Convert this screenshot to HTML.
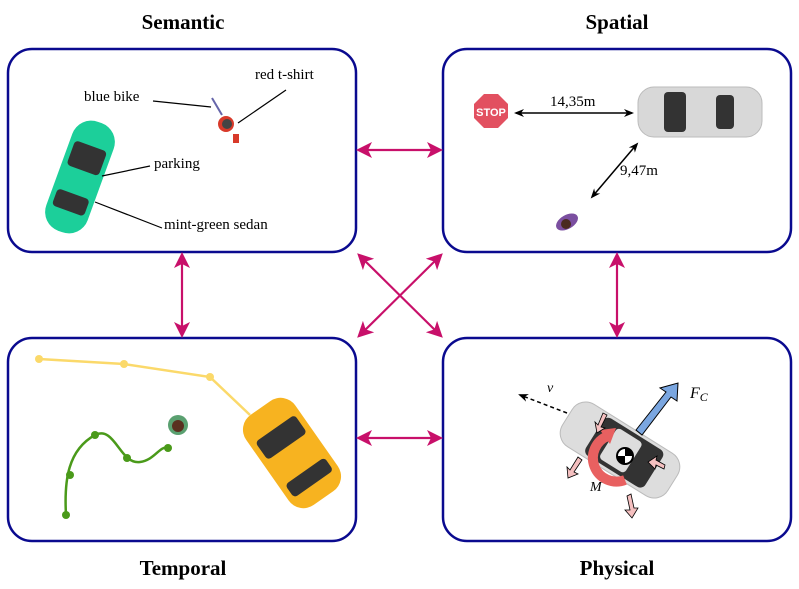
<!DOCTYPE html>
<html><head><meta charset="utf-8"><style>body{margin:0;background:#fff}svg{display:block}</style></head><body>
<svg width="799" height="589" viewBox="0 0 799 589" xmlns="http://www.w3.org/2000/svg" font-family="Liberation Serif, serif">
<defs>
<marker id="m" markerWidth="20" markerHeight="20" refX="12" refY="8" orient="auto-start-reverse" markerUnits="userSpaceOnUse"><path d="M0,0 L16,8 L0,16 L4,8 Z" fill="#c8106a"/></marker>
<marker id="k" markerWidth="10" markerHeight="10" refX="8" refY="5" orient="auto-start-reverse" markerUnits="userSpaceOnUse"><path d="M0,1 L10,5 L0,9 L3,5 Z" fill="#000"/></marker>
</defs>
<g font-weight="bold" font-size="21" text-anchor="middle">
<text x="183" y="29">Semantic</text><text x="617" y="29">Spatial</text>
<text x="183" y="575">Temporal</text><text x="617" y="575">Physical</text></g>
<g fill="none" stroke="#0a0a8f" stroke-width="2.5">
<rect x="8" y="49" width="348" height="203" rx="24"/>
<rect x="443" y="49" width="348" height="203" rx="24"/>
<rect x="8" y="338" width="348" height="203" rx="24"/>
<rect x="443" y="338" width="348" height="203" rx="24"/></g>
<g stroke="#c8106a" stroke-width="2.2" marker-start="url(#m)" marker-end="url(#m)">
<line x1="360" y1="150" x2="439" y2="150"/>
<line x1="360" y1="438" x2="439" y2="438"/>
<line x1="182" y1="256" x2="182" y2="334"/>
<line x1="617" y1="256" x2="617" y2="334"/>
<line x1="360" y1="256" x2="440" y2="335"/>
<line x1="440" y1="256" x2="360" y2="335"/></g>
<!-- semantic -->
<g transform="translate(80,177) rotate(20)"><rect x="-22" y="-58" width="44" height="116" rx="20" fill="#1ccf9a"/><rect x="-17" y="-33" width="34" height="26" rx="4" fill="#333"/><rect x="-17" y="18" width="34" height="18" rx="4" fill="#333"/></g>
<circle cx="226" cy="124" r="8" fill="#d83a2a"/><circle cx="227" cy="124" r="5" fill="#444"/><line x1="212" y1="98" x2="222" y2="115" stroke="#66a" stroke-width="2"/>
<rect x="233" y="134" width="6" height="9" fill="#d83a2a"/>
<g stroke="#000" stroke-width="1.2"><line x1="153" y1="101" x2="211" y2="107"/><line x1="286" y1="90" x2="238" y2="123"/><line x1="150" y1="166" x2="102" y2="176"/><line x1="162" y1="228" x2="95" y2="202"/></g>
<g font-size="15"><text x="84" y="101">blue bike</text><text x="255" y="79">red t-shirt</text><text x="154" y="168">parking</text><text x="164" y="229">mint-green sedan</text></g>
<!-- spatial -->
<polygon points="484,94 498,94 508,104 508,118 498,128 484,128 474,118 474,104" fill="#e25060"/>
<text x="491" y="116" font-family="Liberation Sans" font-size="11" font-weight="bold" fill="#fff" text-anchor="middle">STOP</text>
<rect x="638" y="87" width="124" height="50" rx="16" fill="#d8d8d8" stroke="#bbb"/><rect x="664" y="92" width="22" height="40" rx="4" fill="#333"/><rect x="716" y="95" width="18" height="34" rx="4" fill="#333"/>
<line x1="516" y1="113" x2="632" y2="113" stroke="#000" stroke-width="1.5" marker-start="url(#k)" marker-end="url(#k)"/>
<line x1="592" y1="197" x2="637" y2="144" stroke="#000" stroke-width="1.5" marker-start="url(#k)" marker-end="url(#k)"/>
<text x="550" y="106" font-size="15">14,35m</text><text x="620" y="175" font-size="15">9,47m</text>
<ellipse cx="567" cy="222" rx="12" ry="7" fill="#7b4fa0" transform="rotate(-30 567 222)"/><circle cx="566" cy="224" r="5" fill="#4a2a20"/>
<!-- temporal -->
<polyline points="39,359 124,364 210,377 250,415" fill="none" stroke="#fbd96a" stroke-width="2.5"/>
<g fill="#fbd96a"><circle cx="39" cy="359" r="4"/><circle cx="124" cy="364" r="4"/><circle cx="210" cy="377" r="4"/></g>
<path d="M66,515 C64,480 68,450 95,435 C115,425 120,465 140,462 C155,460 160,445 168,448" fill="none" stroke="#4a9a1a" stroke-width="2.5"/>
<g fill="#4a9a1a"><circle cx="66" cy="515" r="4"/><circle cx="70" cy="475" r="4"/><circle cx="95" cy="435" r="4"/><circle cx="127" cy="458" r="4"/><circle cx="168" cy="448" r="4"/></g>
<circle cx="178" cy="425" r="10" fill="#5aa070"/><circle cx="178" cy="426" r="6" fill="#5a3020"/>
<g transform="translate(292,453) rotate(-35)"><rect x="-30" y="-55" width="60" height="110" rx="18" fill="#f7b320"/><rect x="-24" y="-30" width="48" height="22" rx="4" fill="#333"/><rect x="-24" y="22" width="48" height="16" rx="4" fill="#333"/></g>
<!-- physical -->
<line x1="567" y1="413" x2="520" y2="395" stroke="#000" stroke-width="1.5" stroke-dasharray="4,3" marker-end="url(#k)"/>
<text x="547" y="392" font-size="14" font-style="italic">v</text>
<g transform="translate(620,450) rotate(32)"><rect x="-62" y="-25" width="124" height="50" rx="16" fill="#ddd" stroke="#bbb"/><rect x="-30" y="-22" width="70" height="44" rx="6" fill="#333"/><rect x="-14" y="-18" width="30" height="36" rx="4" fill="#ddd"/></g>
<polygon points="636,430 666,392 660,388 678,383 677,401 671,397 642,435" fill="#7aa6e0" stroke="#000"/>
<path d="M625,480 A22,22 0 1 1 608,436" fill="none" stroke="#e86060" stroke-width="10"/>
<polygon points="600,430 616,428 610,444" fill="#e86060"/>
<circle cx="625" cy="456" r="8" fill="#fff" stroke="#000" stroke-width="2"/><path d="M625,448 A8,8 0 0 1 633,456 L625,456Z M625,464 A8,8 0 0 1 617,456 L625,456Z" fill="#000"/>
<g fill="#f5c0c0" stroke="#000" stroke-width="0.8"><polygon points="578,457 570,470 567,467 568,478 578,474 574,472 582,460"/><polygon points="627,496 630,510 625,510 632,518 638,508 634,508 631,494"/>
<polygon points="603,413 598,425 595,422 597,433 605,428 601,427 607,415"/><polygon points="665,465 656,460 657,456 648,462 655,469 656,465 664,469"/></g>
<text x="690" y="398" font-size="16" font-style="italic">F<tspan font-size="12" dy="3">C</tspan></text>
<text x="590" y="491" font-size="14" font-style="italic">M</text>
</svg>
</body></html>
